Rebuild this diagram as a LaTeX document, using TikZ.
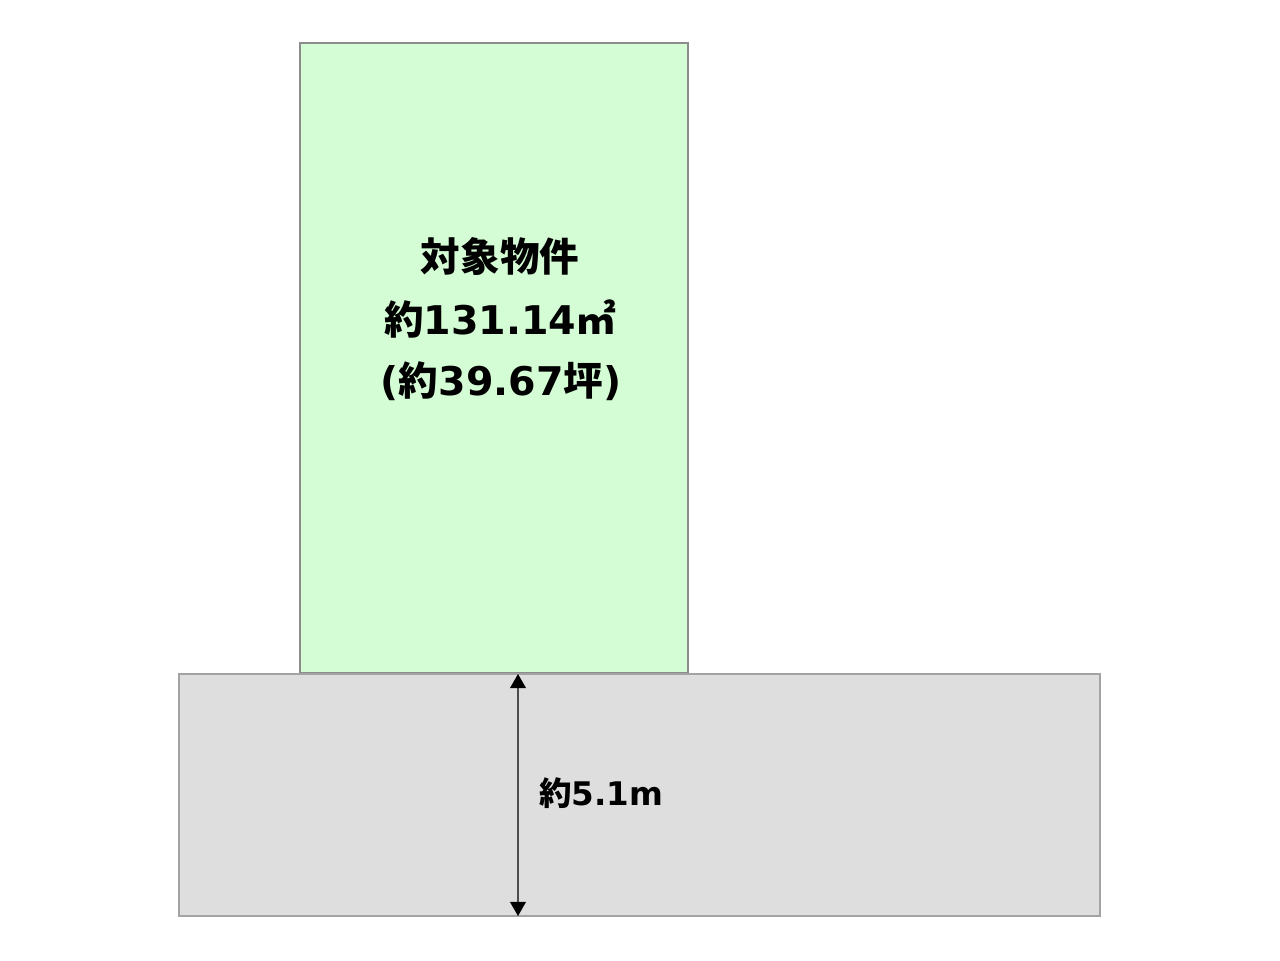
\documentclass[tikz,border=0pt]{standalone}
\usepackage{fontspec}
\usepackage{tikz}
\setmainfont{Noto Sans CJK JP}
\newfontfamily\latin{DejaVu Sans}
\usetikzlibrary{arrows.meta,positioning}

\definecolor{lotgreen}{HTML}{D5FDD5}
\definecolor{roadgray}{HTML}{DEDEDE}
\definecolor{edgegray}{HTML}{8C8C8C}

\newcommand{\num}[1]{{\latin\bfseries #1}}

\begin{document}
\begin{tikzpicture}[x=0.02cm,y=0.02cm]
\tikzset{
  lot/.style={fill=lotgreen,draw=edgegray,line width=0.6pt},
  road/.style={fill=roadgray,draw=edgegray!80,line width=0.6pt},
  label/.style={font=\bfseries\fontsize{22.5}{27}\selectfont,inner sep=0pt},
  small label/.style={font=\bfseries\fontsize{18.5}{22}\selectfont,inner sep=0pt},
  width/.style={draw=black!70,line width=0.6pt,{Triangle[length=8pt,width=9pt,color=black]}-{Triangle[length=8pt,width=9pt,color=black]}}
}
\useasboundingbox (0,0) rectangle (1280,-960);
\draw [lot] (300,-43) rectangle (688,-673);
\draw [road] (179,-674) rectangle (1100,-916);
\node [label] (title) at (500,-256) {対象物件};
\node [label] (area) at (500,-319) {約\num{131.14}㎡};
\node [label] (tsubo) at (501,-381) {\num{(}約\num{39.67}坪\num{)}};
\coordinate (top) at (518,-674);
\coordinate (bottom) at (518,-916);
\draw [width] (top) -- (bottom);
\node [small label,anchor=west] (roadw) at (539,-793) {約\num{5.1m}};
\end{tikzpicture}
\end{document}
